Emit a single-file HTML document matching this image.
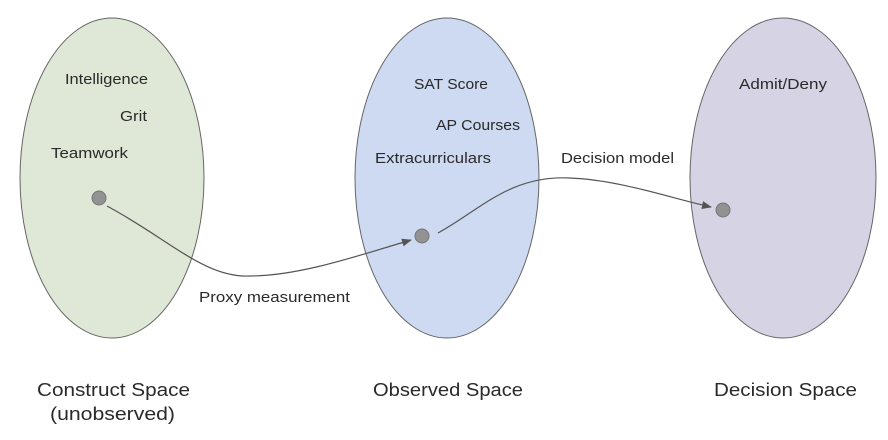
<!DOCTYPE html>
<html><head><meta charset="utf-8"><style>
html,body{margin:0;padding:0;background:#fff;}
svg{display:block;}
text{font-family:"Liberation Sans",sans-serif;fill:#2a2a2a;}
</style></head><body>
<svg width="888" height="440" viewBox="0 0 888 440" xmlns="http://www.w3.org/2000/svg">
<defs><marker id="a" markerWidth="10" markerHeight="8" refX="9" refY="4" orient="auto" markerUnits="userSpaceOnUse"><path d="M0,0 L10,4 L0,8 z" fill="#555"/></marker></defs>
<ellipse cx="112" cy="178" rx="92" ry="160" fill="#dfe8d6" stroke="#666" stroke-width="1"/>
<ellipse cx="447" cy="178" rx="92" ry="160" fill="#cddaf1" stroke="#666" stroke-width="1"/>
<ellipse cx="783" cy="178" rx="93" ry="160" fill="#d6d3e5" stroke="#666" stroke-width="1"/>
<g font-size="14.5">
<text x="65" y="84" textLength="83" lengthAdjust="spacingAndGlyphs">Intelligence</text>
<text x="120" y="121" textLength="27" lengthAdjust="spacingAndGlyphs">Grit</text>
<text x="51" y="158" textLength="77" lengthAdjust="spacingAndGlyphs">Teamwork</text>
<text x="414" y="89" textLength="74" lengthAdjust="spacingAndGlyphs">SAT Score</text>
<text x="436" y="130" textLength="84" lengthAdjust="spacingAndGlyphs">AP Courses</text>
<text x="375" y="163" textLength="116" lengthAdjust="spacingAndGlyphs">Extracurriculars</text>
<text x="739" y="89" textLength="88" lengthAdjust="spacingAndGlyphs">Admit/Deny</text>
<text x="561" y="163" textLength="113" lengthAdjust="spacingAndGlyphs">Decision model</text>
<text x="199" y="302" textLength="151" lengthAdjust="spacingAndGlyphs">Proxy measurement</text>
</g>
<g font-size="18">
<text x="37" y="396" textLength="153" lengthAdjust="spacingAndGlyphs">Construct Space</text>
<text x="50" y="420" textLength="125" lengthAdjust="spacingAndGlyphs">(unobserved)</text>
<text x="373" y="396" textLength="150" lengthAdjust="spacingAndGlyphs">Observed Space</text>
<text x="714" y="396" textLength="143" lengthAdjust="spacingAndGlyphs">Decision Space</text>
</g>
<path d="M107,206 C170,240 205,278 250,276 C300,276 360,255 411,240" fill="none" stroke="#555" stroke-width="1.2" marker-end="url(#a)"/>
<path d="M438,233 C480,210 510,175 570,178 C620,180 670,198 711,207" fill="none" stroke="#555" stroke-width="1.2" marker-end="url(#a)"/>
<circle cx="99" cy="198" r="7" fill="#929292" stroke="#777"/>
<circle cx="422" cy="236" r="7" fill="#929292" stroke="#777"/>
<circle cx="723" cy="210" r="7" fill="#929292" stroke="#777"/>
</svg>
</body></html>
